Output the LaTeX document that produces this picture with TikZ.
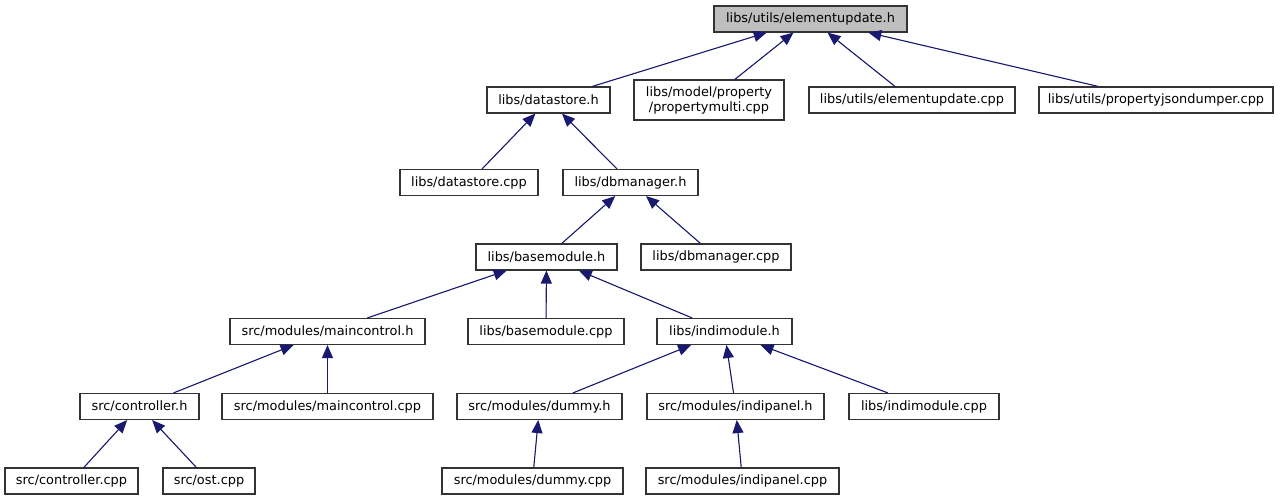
\documentclass[tikz,border=0pt]{standalone}
\usepackage{fontspec}
\setmainfont{DejaVu Sans}
\usepackage{tikz}
\usetikzlibrary{arrows.meta,positioning}
\definecolor{edgeblue}{HTML}{191970}
\definecolor{rootgray}{HTML}{BFBFBF}
\tikzstyle{box} = [draw=black!80, line width=1.1pt, fill=white, inner sep=0pt, minimum height=26pt, align=center, font=\fontsize{12.9}{15}\selectfont]
\tikzstyle{edge} = [-{Triangle[length=13pt,width=11pt]}, draw=edgeblue, fill=edgeblue, line width=1.1pt]

\begin{document}
\begin{tikzpicture}[x=1pt,y=-1pt]
			\useasboundingbox (0,0) rectangle (1283,500);
			
			\node[box, fill=rootgray, minimum width=193pt] (eu) at (810.5,19) {libs/utils/elementupdate.h};
			
			\node[box, minimum width=123pt] (ds) at (548.5,100) {libs/datastore.h};
			\node[box, minimum width=150pt, minimum height=40pt] (pm) at (709,100) {libs/model/property\\/propertymulti.cpp};
			\node[box, minimum width=206pt] (eucpp) at (912,100) {libs/utils/elementupdate.cpp};
			\node[box, minimum width=234pt] (pjd) at (1156,100) {libs/utils/propertyjsondumper.cpp};
			
			\node[box, minimum width=138pt] (dscpp) at (469,182.5) {libs/datastore.cpp};
			\node[box, minimum width=135pt] (dbm) at (630.5,182.5) {libs/dbmanager.h};
			
			\node[box, minimum width=141pt] (bm) at (546.5,257) {libs/basemodule.h};
			\node[box, minimum width=150pt] (dbmcpp) at (716,257) {libs/dbmanager.cpp};
			
			\node[box, minimum width=195pt] (mc) at (327.5,331.5) {src/modules/maincontrol.h};
			\node[box, minimum width=156pt] (bmcpp) at (546,331.5) {libs/basemodule.cpp};
			\node[box, minimum width=135pt] (im) at (724.5,331.5) {libs/indimodule.h};
			
			\node[box, minimum width=119pt] (ctrl) at (139.5,406.5) {src/controller.h};
			\node[box, minimum width=211pt] (mccpp) at (327.5,406.5) {src/modules/maincontrol.cpp};
			\node[box, minimum width=165pt] (dm) at (539.5,406.5) {src/modules/dummy.h};
			\node[box, minimum width=177pt] (ip) at (735.5,406.5) {src/modules/indipanel.h};
			\node[box, minimum width=150pt] (imcpp) at (924,406.5) {libs/indimodule.cpp};
			
			\node[box, minimum width=133pt] (ctrlcpp) at (71.5,481) {src/controller.cpp};
			\node[box, minimum width=92pt] (ost) at (209,481) {src/ost.cpp};
			\node[box, minimum width=181pt] (dmcpp) at (532.5,481) {src/modules/dummy.cpp};
			\node[box, minimum width=193pt] (ipcpp) at (742.5,481) {src/modules/indipanel.cpp};
			
			\draw[edge] (ds) -- (eu);
			\draw[edge] (pm) -- (eu);
			\draw[edge] (eucpp) -- (eu);
			\draw[edge] (pjd) -- (eu);
			
			\draw[edge] (dscpp) -- (ds);
			\draw[edge] (dbm) -- (ds);
			
			\draw[edge] (bm) -- (dbm);
			\draw[edge] (dbmcpp) -- (dbm);
			
			\draw[edge] (mc) -- (bm);
			\draw[edge] (bmcpp) -- (bm);
			\draw[edge] (im) -- (bm);
			
			\draw[edge] (ctrl) -- (mc);
			\draw[edge] (mccpp) -- (mc);
			\draw[edge] (dm) -- (im);
			\draw[edge] (ip) -- (im);
			\draw[edge] (imcpp) -- (im);
			
			\draw[edge] (ctrlcpp) -- (ctrl);
			\draw[edge] (ost) -- (ctrl);
			\draw[edge] (dmcpp) -- (dm);
			\draw[edge] (ipcpp) -- (ip);
		\end{tikzpicture}
\end{document}
